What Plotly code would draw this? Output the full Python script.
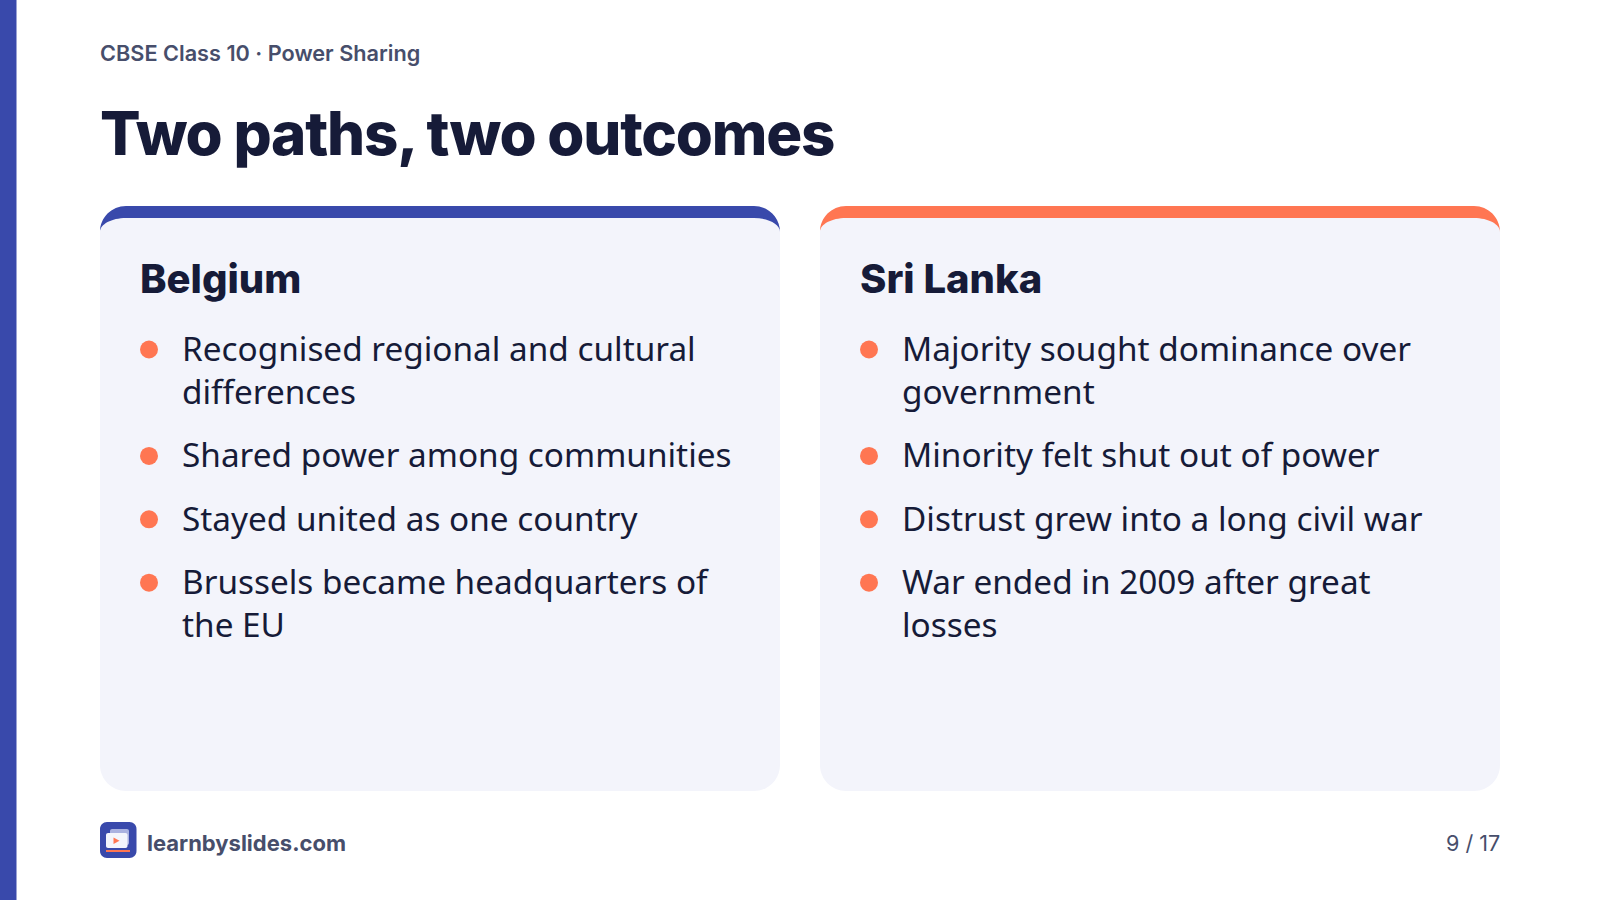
"""Slide: two comparison cards, drawn as shapes and annotations on a pixel-sized axis."""
import plotly.graph_objects as go

EYEBROW = "CBSE Class 10 · Power Sharing"
TITLE = "Two paths, two outcomes"
SITE = "learnbyslides.com"
PAGE = "9 / 17"

CARD_NAMES = ["Belgium", "Sri Lanka"]
# each bullet is a list of wrapped lines
BELGIUM_POINTS = [
    ["Recognised regional and cultural", "differences"],
    ["Shared power among communities"],
    ["Stayed united as one country"],
    ["Brussels became headquarters of", "the EU"],
]
SRI_LANKA_POINTS = [
    ["Majority sought dominance over", "government"],
    ["Minority felt shut out of power"],
    ["Distrust grew into a long civil war"],
    ["War ended in 2009 after great", "losses"],
]

INDIGO = "#3949ab"
CORAL = "#ff7652"
CARD_BG = "#f3f4fb"
INK = "#161b38"
MUTED = "#474e6b"

W, H = 1600, 900
CARD_W = 680
CARD_TOP, CARD_BOTTOM = 206, 791
RADIUS = 26
BORDER = 12
K = 0.5523  # bezier circle constant
PAD = 2  # annotations sit this far inside their anchor


def rounded_rect(x0, y0, x1, y1, r):
    c = r * K
    return (f"M{x0},{y0 + r} C{x0},{y0 + r - c} {x0 + r - c},{y0} {x0 + r},{y0} "
            f"L{x1 - r},{y0} C{x1 - r + c},{y0} {x1},{y0 + r - c} {x1},{y0 + r} "
            f"L{x1},{y1 - r} C{x1},{y1 - r + c} {x1 - r + c},{y1} {x1 - r},{y1} "
            f"L{x0 + r},{y1} C{x0 + r - c},{y1} {x0},{y1 - r + c} {x0},{y1 - r} Z")


def top_band(x0):
    # css border-top on a rounded box: a strip whose ends taper to nothing
    x1 = x0 + CARD_W
    r, t = RADIUS, CARD_TOP
    c, v = r * K, (r - BORDER) * K
    return (f"M{x0},{t + r} C{x0},{t + r - c} {x0 + r - c},{t} {x0 + r},{t} "
            f"L{x1 - r},{t} C{x1 - r + c},{t} {x1},{t + r - c} {x1},{t + r} "
            f"C{x1},{t + r - v} {x1 - r + c},{t + BORDER} {x1 - r},{t + BORDER} "
            f"L{x0 + r},{t + BORDER} C{x0 + r - c},{t + BORDER} {x0},{t + r - v} {x0},{t + r} Z")


fig = go.Figure()
shapes, notes = [], []


def label(x, y, text, size, color, family, weight=400, anchor="left"):
    x = x - PAD if anchor == "left" else x + PAD
    notes.append(dict(x=x, y=y, text=text, showarrow=False, xanchor=anchor, yanchor="middle",
                      xref="x", yref="y", align=anchor,
                      font=dict(family=family, size=size, color=color, weight=weight)))


def solid(path, color):
    shapes.append(dict(type="path", path=path, fillcolor=color, line=dict(width=0), layer="below"))


shapes.append(dict(type="rect", x0=0, x1=16.5, y0=0, y1=H, fillcolor=INDIGO, line=dict(width=0), layer="below"))
label(100, 53, EYEBROW, 21.7, MUTED, "Inter", 600)
label(100, 133, TITLE, 60, INK, "Inter", 800)

LINE_GAP = 43
BULLET_GAP = 63.4
for x0, color, name, points in zip([100, 820], [INDIGO, CORAL], CARD_NAMES,
                                   [BELGIUM_POINTS, SRI_LANKA_POINTS]):
    solid(rounded_rect(x0, CARD_TOP, x0 + CARD_W, CARD_BOTTOM, RADIUS), CARD_BG)
    solid(top_band(x0), color)
    label(x0 + 40, 278.3, name, 40, INK, "Inter", 800)
    y = 348
    for lines in points:
        shapes.append(dict(type="circle", x0=x0 + 40, x1=x0 + 58, y0=y - 7.5, y1=y + 10.5,
                           fillcolor=CORAL, line=dict(width=0), layer="below"))
        for i, line in enumerate(lines):
            label(x0 + 81.6, y + i * LINE_GAP, line, 33.35, INK, "Noto Sans")
        y += (len(lines) - 1) * LINE_GAP + BULLET_GAP

# logo
solid(rounded_rect(100, 822, 136.5, 858, 7), INDIGO)
solid(rounded_rect(110, 829, 129, 845, 2), "#aab2e0")
solid(rounded_rect(106, 833, 127.5, 848, 2), "#f3f5fc")
shapes.append(dict(type="path", path="M113.5,837.5 L113.5,844 L119.5,840.7 Z", fillcolor=CORAL,
                   line=dict(width=0), layer="below"))
shapes.append(dict(type="rect", x0=106, x1=130, y0=850, y1=852, fillcolor=CORAL,
                   line=dict(width=0), layer="below"))

label(146.5, 843, SITE, 22, MUTED, "Inter", 700)
label(1500, 843, PAGE, 21.6, MUTED, "Inter", 400, anchor="right")

# invisible trace so the pixel axes exist
fig.add_trace(go.Scatter(x=[0, W], y=[0, H], mode="markers", marker=dict(opacity=0),
                         hoverinfo="skip", showlegend=False))
fig.update_xaxes(range=[0, W], visible=False, fixedrange=True)
fig.update_yaxes(range=[H, 0], visible=False, fixedrange=True)
fig.update_layout(width=W, height=H, margin=dict(l=0, r=0, t=0, b=0),
                  paper_bgcolor="white", plot_bgcolor="white", shapes=shapes, annotations=notes)

# plotly fonts have no letter-spacing, so tighten the big headline after drawing
POST = """
document.body.style.margin = '0';
document.querySelectorAll('.annotation-text').forEach(function (t) {
  if (t.textContent === '%s') t.style.letterSpacing = '-1.2px';
});
""" % TITLE
fig.write_html("out.html", config=dict(displayModeBar=False), post_script=POST)
